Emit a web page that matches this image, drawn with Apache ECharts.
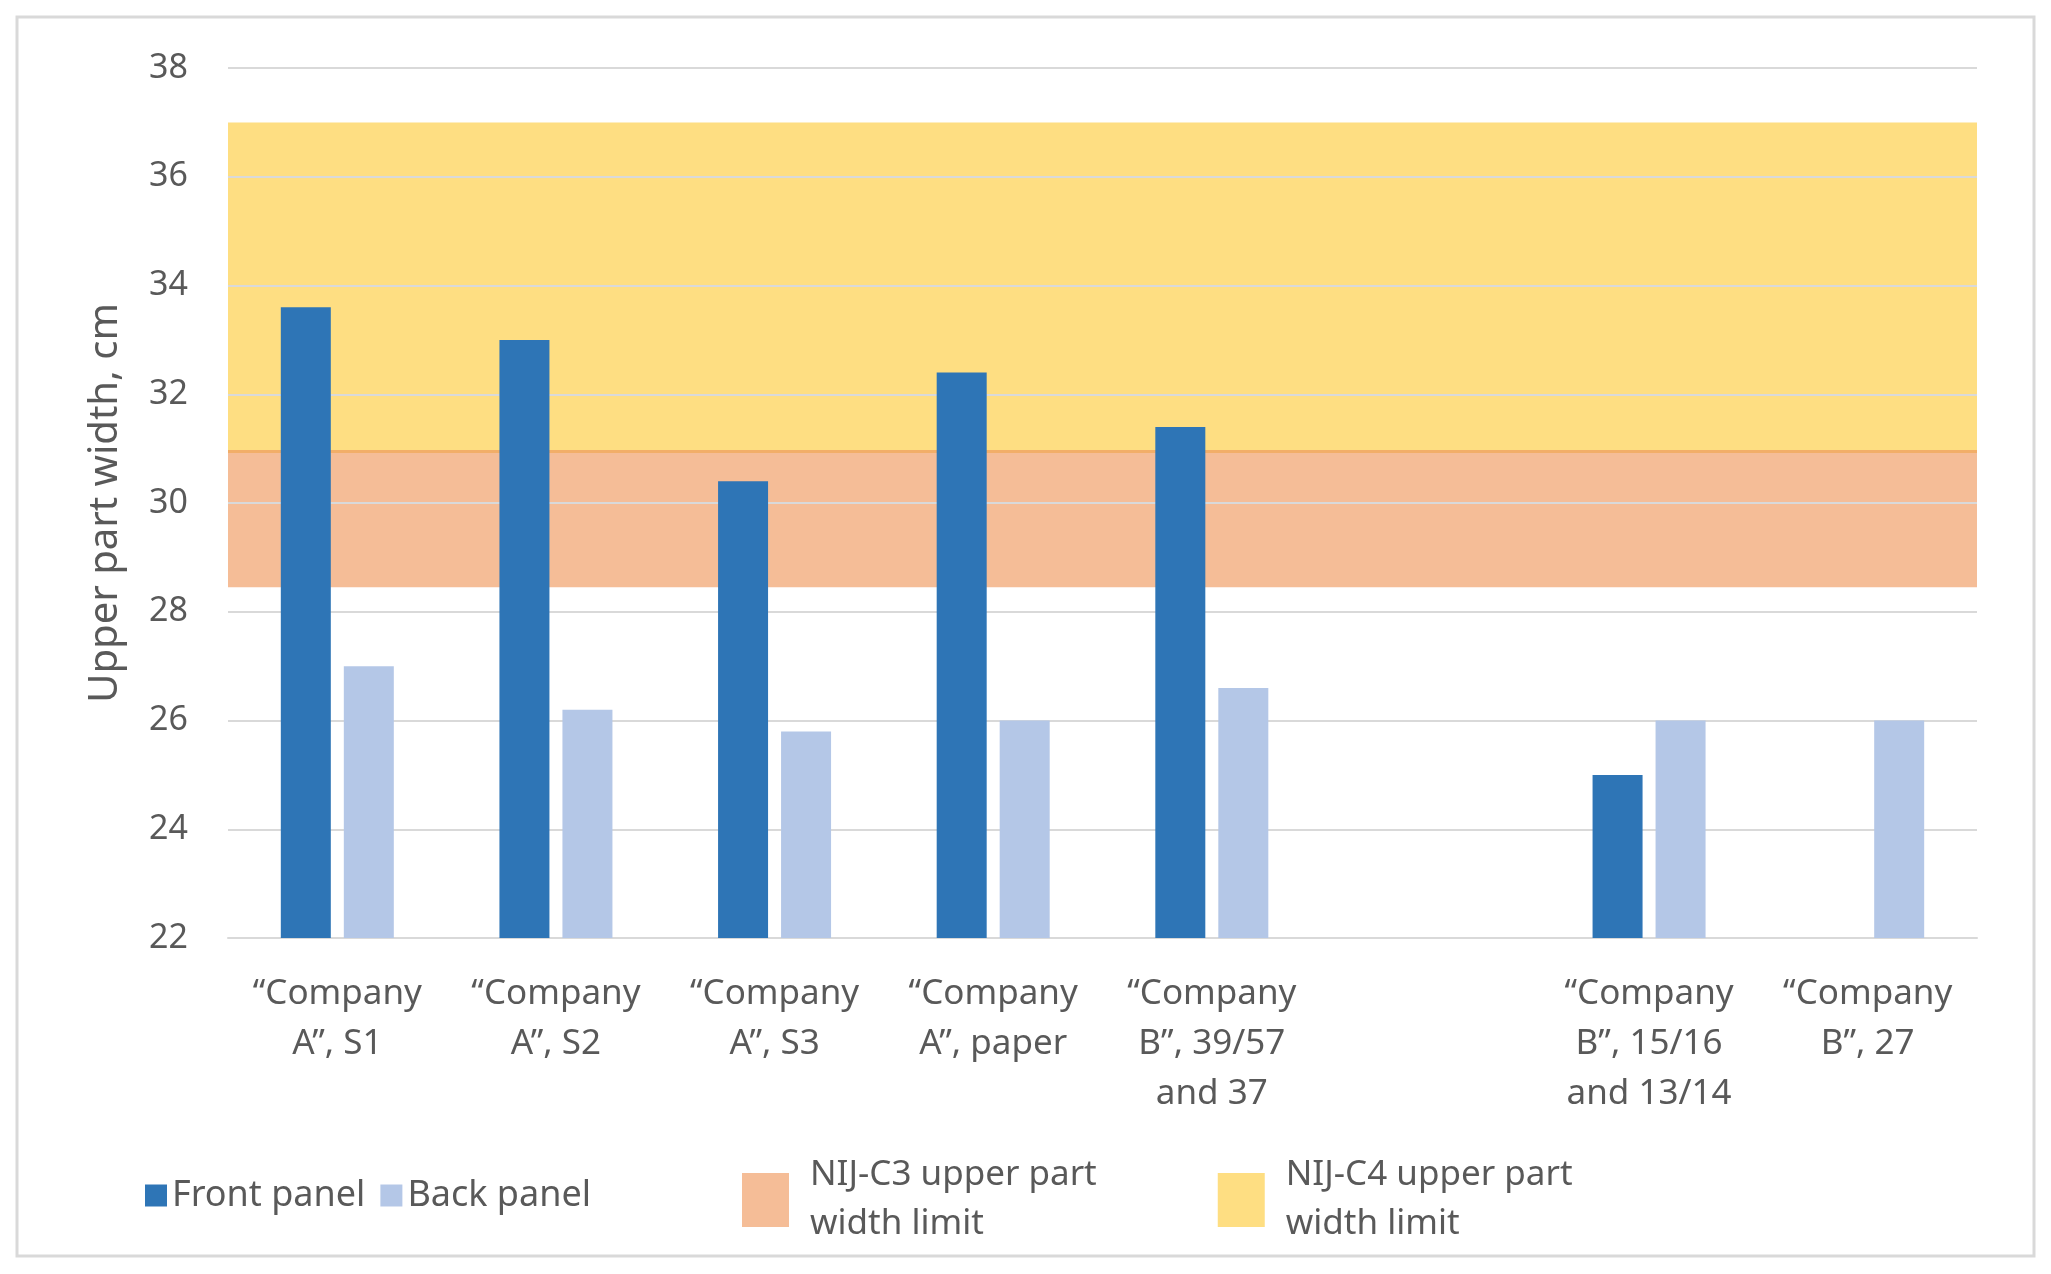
<!DOCTYPE html>
<html>
<head>
<meta charset="utf-8">
<script src="https://cdn.jsdelivr.net/npm/echarts@6/dist/echarts.min.js"></script>
<style>
html,body{margin:0;padding:0;background:#fff;}
#chart{width:2051px;height:1274px;}
</style>
</head>
<body>
<div id="chart"></div>
<script>
const categories = [
  '\u201CCompany\nA\u201D, S1',
  '\u201CCompany\nA\u201D, S2',
  '\u201CCompany\nA\u201D, S3',
  '\u201CCompany\nA\u201D, paper',
  '\u201CCompany\nB\u201D, 39/57\nand 37',
  '',
  '\u201CCompany\nB\u201D, 15/16\nand 13/14',
  '\u201CCompany\nB\u201D, 27'
];
const frontPanel = [33.6, 33.0, 30.4, 32.4, 31.4, null, 25.0, null];
const backPanel = [27.0, 26.2, 25.8, 26.0, 26.6, null, 26.0, 26.0];
const c3Limit = [28.45, 30.95];
const c4Limit = [30.95, 37.0];
const yTicks = {min: 22, max: 38, interval: 2};

const FONT = '"Noto Sans", sans-serif';
const TXT = '#595959';

const chart = echarts.init(document.getElementById('chart'));
chart.setOption({
  backgroundColor: '#ffffff',
  animation: false,
  textStyle: {fontFamily: FONT},
  graphic: [{
    type: 'rect', z: -10, silent: true,
    shape: {x: 17, y: 17, width: 2017, height: 1239},
    style: {fill: null, stroke: '#d9d9d9', lineWidth: 3}
  }],
  grid: {left: 228, right: 74, top: 68, bottom: 336, containLabel: false},
  legend: [{
    left: 140, top: 1166,
    itemWidth: 22, itemHeight: 22, itemGap: 15,
    icon: 'rect',
    data: ['Front panel', 'Back panel'],
    textStyle: {fontFamily: FONT, fontSize: 36, color: TXT, lineHeight: 49}
  }, {
    left: 737, top: 1146,
    itemWidth: 47, itemHeight: 54, itemGap: 121,
    icon: 'rect',
    data: ['NIJ-C3 upper part width limit', 'NIJ-C4 upper part width limit'],
    formatter: function (n) { return n.replace(' width limit', '\nwidth limit'); },
    textStyle: {fontFamily: FONT, fontSize: 35, color: TXT, lineHeight: 49, padding: [0, 0, 0, 16]}
  }],
  xAxis: {
    type: 'category', data: categories, z: 1,
    axisLine: {show: true, lineStyle: {color: '#d9d9d9', width: 2}},
    axisTick: {show: false},
    axisLabel: {interval: 0, margin: 31, fontFamily: FONT, fontSize: 35, lineHeight: 50, color: TXT}
  },
  yAxis: {
    type: 'value', min: yTicks.min, max: yTicks.max, interval: yTicks.interval, z: 1,
    name: 'Upper part width, cm', nameLocation: 'middle', nameGap: 102,
    nameTextStyle: {fontFamily: FONT, fontSize: 40, color: TXT},
    axisLine: {show: false}, axisTick: {show: false},
    axisLabel: {margin: 40, fontFamily: FONT, fontSize: 34, color: TXT},
    splitLine: {lineStyle: {color: '#d9d9d9', width: 2}}
  },
  series: [{
    name: 'Front panel', type: 'bar', z: 2,
    data: frontPanel, barWidth: 50, barGap: '26%',
    itemStyle: {color: '#2e75b6'}
  }, {
    name: 'Back panel', type: 'bar', z: 2,
    data: backPanel, barWidth: 50,
    itemStyle: {color: '#b4c7e7'}
  }, {
    name: 'NIJ-C3 upper part width limit', type: 'line', z: 0, data: [],
    itemStyle: {color: '#f5bd97'}, lineStyle: {color: '#f5bd97'},
    markArea: {silent: true, z: 0, itemStyle: {color: '#f5bd97', opacity: 1},
      data: [[{yAxis: c3Limit[0]}, {yAxis: c3Limit[1]}]]},
    markLine: {silent: true, z: 0.5, symbol: 'none', label: {show: false},
      lineStyle: {color: '#f2ae68', width: 3, type: 'solid'},
      data: [{yAxis: c3Limit[1]}]}
  }, {
    name: 'NIJ-C4 upper part width limit', type: 'line', z: 0, data: [],
    itemStyle: {color: '#fede82'}, lineStyle: {color: '#fede82'},
    markArea: {silent: true, z: 0, itemStyle: {color: '#fede82', opacity: 1},
      data: [[{yAxis: c4Limit[0]}, {yAxis: c4Limit[1]}]]}
  }]
});
</script>
</body>
</html>
